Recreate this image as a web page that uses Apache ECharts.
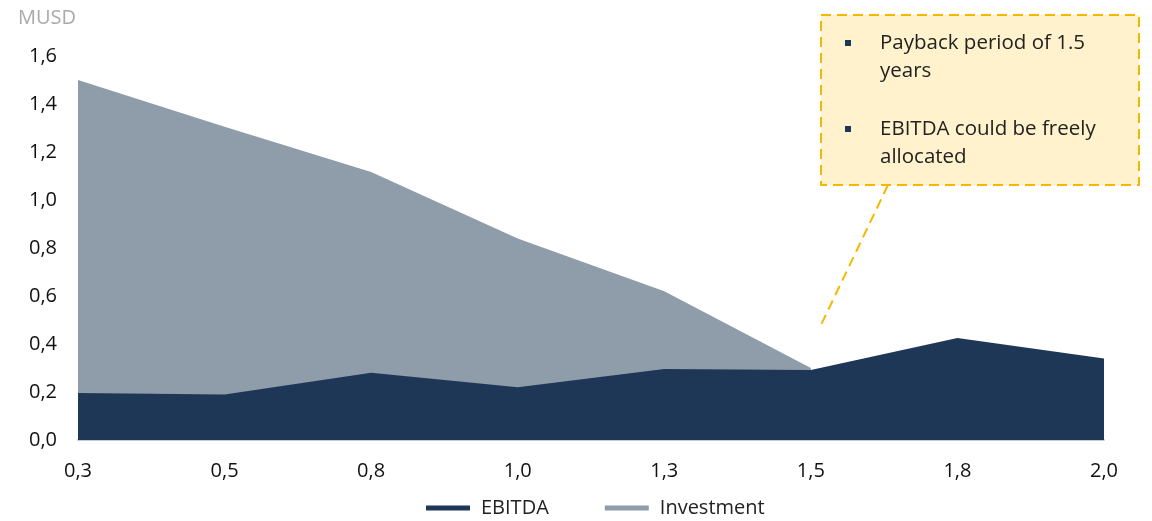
<!DOCTYPE html>
<html>
<head>
<meta charset="utf-8">
<script src="https://cdn.jsdelivr.net/npm/echarts@6/dist/echarts.min.js"></script>
<style>
  html, body { margin: 0; padding: 0; background: #fff; }
  #chart { width: 1152px; height: 521px; }
</style>
</head>
<body>
<div id="chart"></div>
<script>
// Years on the horizontal axis
const years = ['0,3', '0,5', '0,8', '1,0', '1,3', '1,5', '1,8', '2,0'];
// Values in MUSD
const ebitda = [0.196, 0.19, 0.28, 0.22, 0.296, 0.292, 0.425, 0.34];
const investment = [1.5, 1.305, 1.117, 0.84, 0.62, 0.30, null, null];
// Callout text
const notes = ['Payback period of 1.5\nyears', 'EBITDA could be freely\nallocated'];

const FONT = '"Open Sans", "Noto Sans", sans-serif';
const NAVY = '#1f3757';
const GREY = '#8f9dab';
const GOLD = '#f5b800';

const chart = echarts.init(document.getElementById('chart'), null, { renderer: 'canvas' });

chart.setOption({
  animation: false,
  textStyle: { fontFamily: FONT },
  grid: { left: 78, right: 48, top: 56, bottom: 81, containLabel: false },
  legend: {
    top: 498,
    left: 426,
    padding: 0,
    itemWidth: 44,
    itemHeight: 5,
    itemGap: 56,
    icon: 'rect',
    textStyle: { fontFamily: FONT, fontSize: 20, color: '#222', padding: [0, 0, 0, 6] },
    data: ['EBITDA', 'Investment']
  },
  xAxis: {
    type: 'category',
    data: years,
    boundaryGap: false,
    axisLine: { show: true, lineStyle: { color: '#c3ccd6', width: 2 } },
    axisTick: { show: false },
    axisLabel: { fontFamily: FONT, fontSize: 20, color: '#111', margin: 21 }
  },
  yAxis: {
    type: 'value',
    min: 0,
    max: 1.6,
    interval: 0.2,
    name: 'MUSD',
    nameLocation: 'end',
    nameGap: 28,
    nameTextStyle: { fontFamily: FONT, fontSize: 20, color: '#aaa', align: 'left', padding: [0, 0, 0, -60] },
    axisLine: { show: false },
    axisTick: { show: false },
    splitLine: { show: false },
    axisLabel: {
      fontFamily: FONT, fontSize: 20, color: '#111', margin: 21,
      formatter: v => v.toFixed(1).replace('.', ',')
    }
  },
  series: [
    {
      name: 'EBITDA',
      type: 'line',
      data: ebitda,
      z: 3,
      showSymbol: false,
      itemStyle: { color: NAVY },
      lineStyle: { width: 0, color: NAVY },
      areaStyle: { color: NAVY, opacity: 1 }
    },
    {
      name: 'Investment',
      type: 'line',
      data: investment,
      z: 2,
      showSymbol: false,
      itemStyle: { color: GREY },
      lineStyle: { width: 0, color: GREY },
      areaStyle: { color: GREY, opacity: 1 }
    }
  ],
  graphic: [
    {
      type: 'line',
      shape: { x1: 888, y1: 185, x2: 821, y2: 325 },
      style: { stroke: GOLD, lineWidth: 2, lineDash: [10, 6] },
      z: 10
    },
    {
      type: 'rect',
      shape: { x: 821, y: 15, width: 318, height: 170 },
      style: { fill: '#fff2cc', stroke: GOLD, lineWidth: 2, lineDash: [10, 6] },
      z: 11
    },
    {
      type: 'rect',
      shape: { x: 845, y: 40, width: 6, height: 6 },
      style: { fill: NAVY },
      z: 12
    },
    {
      type: 'text',
      x: 880, y: 29,
      style: { text: notes[0], fill: '#222', font: '20.5px ' + FONT, lineHeight: 28 },
      z: 12
    },
    {
      type: 'rect',
      shape: { x: 845, y: 126, width: 6, height: 6 },
      style: { fill: NAVY },
      z: 12
    },
    {
      type: 'text',
      x: 880, y: 115,
      style: { text: notes[1], fill: '#222', font: '20.5px ' + FONT, lineHeight: 28 },
      z: 12
    }
  ]
});
</script>
</body>
</html>
